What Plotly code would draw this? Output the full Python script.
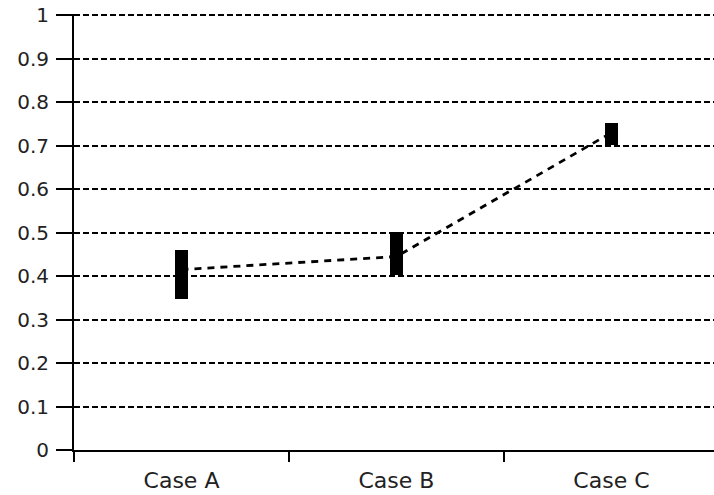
import plotly.graph_objects as go

# Ratio ranges per case, with the central estimate joined by a dashed line
cases = ["Case A", "Case B", "Case C"]
low = [0.347, 0.402, 0.701]
high = [0.461, 0.502, 0.752]
mid = [0.415, 0.445, 0.73]
y_ticks = [0, 0.1, 0.2, 0.3, 0.4, 0.5, 0.6, 0.7, 0.8, 0.9, 1]
y_tick_text = ["0", "0.1", "0.2", "0.3", "0.4", "0.5", "0.6", "0.7", "0.8", "0.9", "1"]

fig = go.Figure()

fig.add_trace(go.Scatter(
    x=cases, y=mid, mode="lines",
    line=dict(color="black", width=2.8, dash="7px,6px"),
    hoverinfo="skip", showlegend=False,
))

fig.add_trace(go.Bar(
    x=cases,
    base=low,
    y=[h - l for h, l in zip(high, low)],
    width=0.06,
    marker=dict(color="black", line=dict(width=0)),
    showlegend=False,
))

fig.update_layout(
    width=714, height=495,
    margin=dict(l=74, r=0, t=14, b=45),
    paper_bgcolor="white", plot_bgcolor="white",
    font=dict(family="DejaVu Sans, Liberation Sans, sans-serif", size=20, color="#222"),
    bargap=0,
)

fig.update_xaxes(
    range=[-0.5, 2.477],
    showline=True, linecolor="black", linewidth=2,
    ticks="outside", tickson="boundaries", ticklen=10, tickwidth=2, tickcolor="black",
    showgrid=False, zeroline=False,
    ticklabelstandoff=10,
    tickfont=dict(size=22),
)

fig.update_yaxes(
    range=[0, 1.003],
    tickvals=y_ticks, ticktext=y_tick_text,
    showline=True, linecolor="black", linewidth=2,
    ticks="outside", ticklen=16, tickwidth=2, tickcolor="black",
    showgrid=True, gridcolor="black", gridwidth=1.6, griddash="6px,3px",
    zeroline=False,
    ticklabelstandoff=3,
    tickfont=dict(size=20),
)

fig.write_html("out.html")
